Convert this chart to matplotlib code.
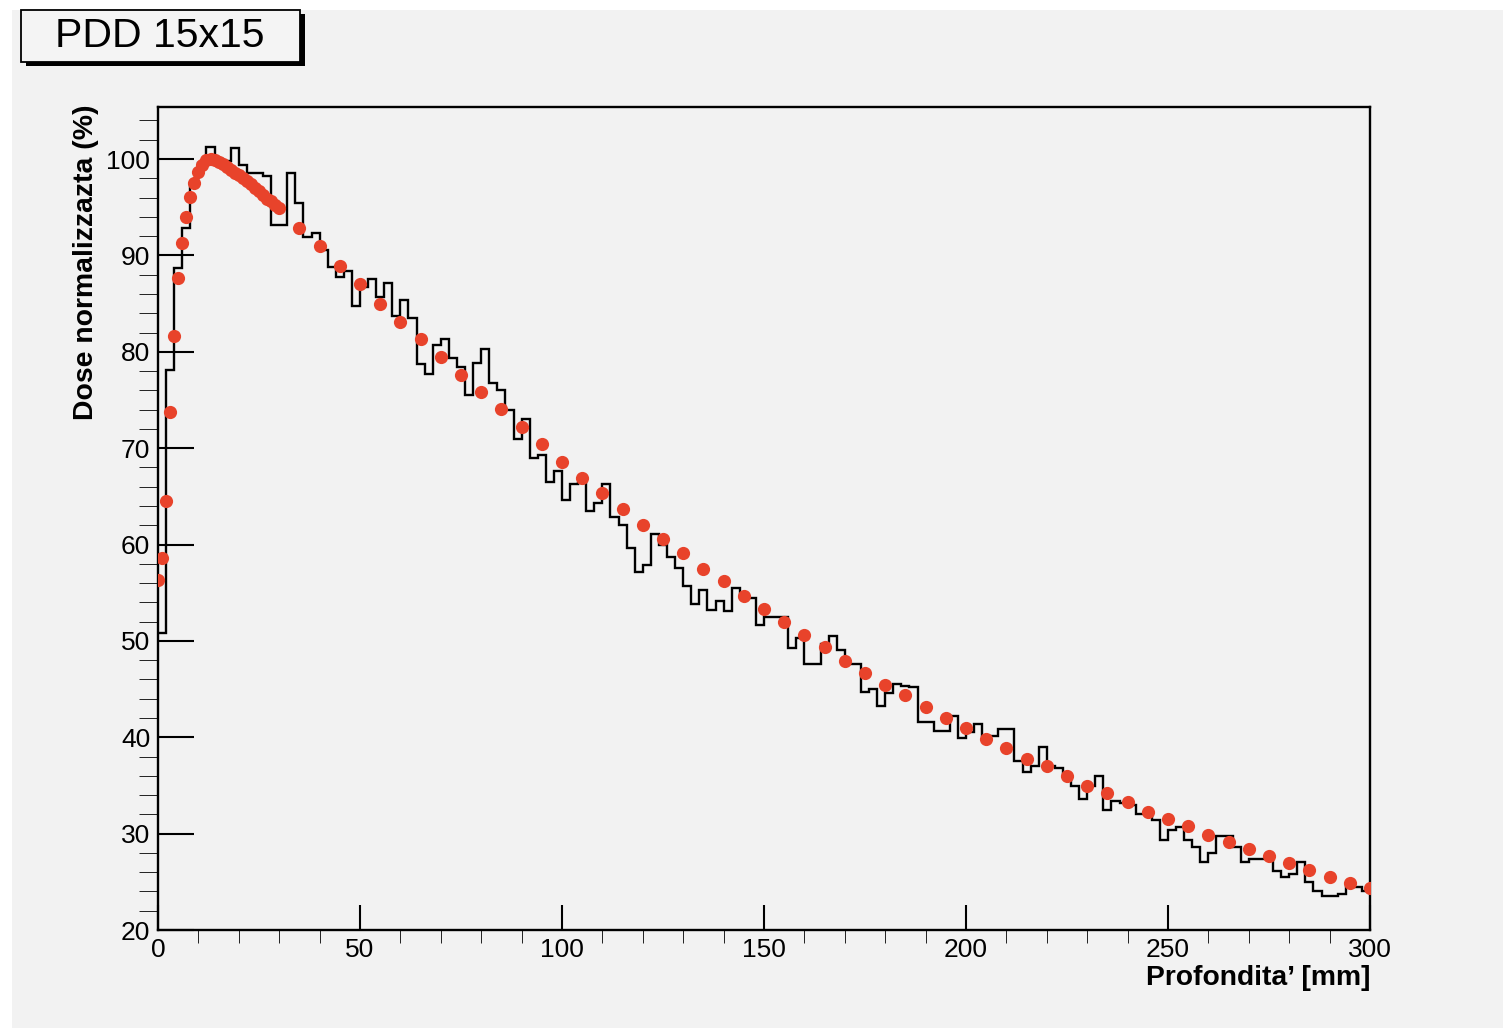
import numpy as np
import matplotlib.pyplot as plt
from matplotlib.patches import Rectangle
from matplotlib.ticker import MultipleLocator

plt.rcParams['font.family'] = ['Liberation Sans', 'DejaVu Sans']

# measured histogram, 2 mm bins from 0 to 300 mm
bin_edges = np.arange(0, 302, 2)
hist_dose = [
    50.8, 78.1, 88.7, 92.8, 97.5, 99.6, 101.3, 100.0, 99.8, 101.1,
    99.4, 98.6, 98.6, 98.2, 93.2, 93.2, 98.5, 95.4, 91.9, 92.3,
    90.6, 88.8, 87.8, 88.4, 84.7, 86.7, 87.6, 85.7, 87.1, 83.7,
    85.4, 83.5, 78.7, 77.7, 80.7, 81.3, 79.4, 78.4, 75.5, 78.8,
    80.3, 76.8, 76.0, 74.0, 71.0, 73.0, 69.0, 69.3, 66.5, 67.6,
    64.6, 66.3, 66.4, 63.5, 64.3, 66.3, 62.9, 62.0, 59.6, 57.1,
    57.9, 61.1, 59.9, 58.7, 57.6, 55.7, 53.8, 55.3, 53.2, 54.1,
    53.1, 55.5, 54.4, 54.4, 51.6, 52.5, 52.5, 52.5, 49.3, 50.3,
    47.6, 47.6, 49.7, 50.5, 49.1, 47.6, 47.6, 44.7, 45.0, 43.2,
    44.6, 45.5, 45.3, 45.2, 41.6, 41.6, 40.7, 40.7, 42.2, 39.9,
    40.5, 41.4, 40.1, 40.1, 40.9, 40.9, 37.5, 36.4, 37.0, 39.0,
    37.0, 36.8, 36.0, 34.9, 33.6, 34.9, 36.0, 32.5, 33.4, 33.2,
    33.0, 32.0, 32.1, 31.4, 29.3, 30.4, 30.7, 29.3, 28.6, 27.1,
    28.0, 29.8, 29.8, 28.6, 27.1, 27.4, 27.4, 27.4, 26.1, 25.5,
    25.8, 27.1, 25.0, 24.0, 23.5, 23.5, 23.7, 24.8, 24.5, 24.0,
]

# reference curve (red points): 1 mm steps up to 30 mm, then 5 mm steps
ref_depth = list(range(0, 31)) + list(range(35, 301, 5))
ref_dose = [
    56.3, 58.6, 64.5, 73.7, 81.6, 87.7, 91.3, 94.0, 96.1, 97.5,
    98.7, 99.4, 99.9, 100.0, 99.9, 99.7, 99.5, 99.2, 98.9, 98.6,
    98.3, 98.0, 97.7, 97.4, 97.0, 96.7, 96.3, 95.9, 95.6, 95.2,
    94.9,
    92.8, 91.0, 88.9, 87.0, 85.0, 83.1, 81.3, 79.5, 77.6, 75.8,
    74.1, 72.2, 70.4, 68.6, 66.9, 65.3, 63.7, 62.0, 60.6, 59.1,
    57.5, 56.2, 54.7, 53.3, 52.0, 50.6, 49.4, 47.9, 46.7, 45.4,
    44.4, 43.1, 42.0, 41.0, 39.8, 38.9, 37.7, 37.0, 36.0, 34.9,
    34.2, 33.3, 32.2, 31.5, 30.8, 29.9, 29.1, 28.4, 27.7, 27.0,
    26.2, 25.5, 24.9, 24.4,
]

W, H = 1503, 1031
bg = '#f2f2f2'


def fx(px):
    return px / W


def fy(py):
    return 1 - py / H


fig = plt.figure(figsize=(W / 100, H / 100), dpi=100)
fig.patch.set_facecolor('white')
# grey canvas (small white margin on left/top/bottom)
fig.add_artist(Rectangle((fx(12), fy(1028)), fx(W) - fx(12), fy(10) - fy(1028),
                         transform=fig.transFigure, facecolor=bg,
                         edgecolor='none', zorder=-10))

ax = fig.add_axes([fx(158), fy(930), fx(1370) - fx(158), fy(107) - fy(930)])
ax.set_facecolor(bg)

ax.stairs(hist_dose, bin_edges, color='black', lw=1.7, baseline=None, zorder=2)
ax.plot(ref_depth, ref_dose, 'o', color='#e8432b', ms=9.5, mec='none', zorder=3)

ax.set_xlim(0, 300)
ax.set_ylim(20, 105.4)
ax.xaxis.set_major_locator(MultipleLocator(50))
ax.xaxis.set_minor_locator(MultipleLocator(10))
ax.yaxis.set_major_locator(MultipleLocator(10))
ax.yaxis.set_minor_locator(MultipleLocator(2))

for s in ax.spines.values():
    s.set_linewidth(1.7)

ax.tick_params(direction='in', top=False, right=False, width=1.5,
               labelsize=19, colors='black')
ax.tick_params(axis='y', which='major', length=26, pad=5.5)
ax.tick_params(axis='y', which='minor', length=13.5)
ax.tick_params(axis='x', which='major', length=18, pad=6)
ax.tick_params(axis='x', which='minor', length=9)

fig.text(fx(1370), fy(985), 'Profondita\u2019 [mm]', ha='right', va='baseline',
         fontsize=20.3, fontweight='bold')
fig.text(fx(86), fy(104), 'Dose normalizzazta (%)', ha='center', va='top',
         rotation=90, fontsize=20.4, fontweight='bold')

# title box with shadow
fig.add_artist(Rectangle((fx(26), fy(66)), fx(305) - fx(26), fy(14) - fy(66),
                         transform=fig.transFigure, facecolor='black',
                         edgecolor='none', zorder=5))
fig.add_artist(Rectangle((fx(21), fy(62)), fx(300) - fx(21), fy(10) - fy(62),
                         transform=fig.transFigure, facecolor='#f4f4f4',
                         edgecolor='black', lw=1.3, zorder=6))
fig.text(fx(160), fy(36), 'PDD 15x15', ha='center', va='center',
         fontsize=29.5, zorder=7)

fig.savefig('out.png', dpi=100)
